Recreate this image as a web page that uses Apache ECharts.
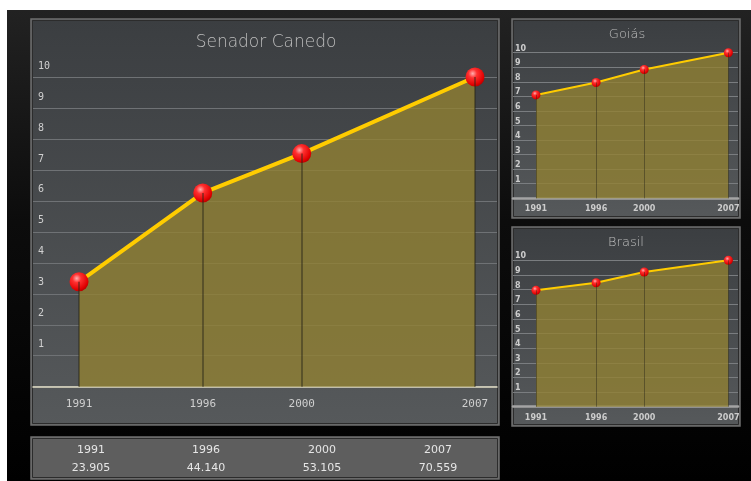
<!DOCTYPE html>
<html>
<head>
<meta charset="utf-8">
<script src="https://cdn.jsdelivr.net/npm/echarts@6/dist/echarts.min.js"></script>
<style>
  html, body { margin: 0; padding: 0; background: #fff; }
  #chart { width: 751px; height: 481px; }
</style>
</head>
<body>
<div id="chart"></div>
<script>
  // dados
  const years = [1991, 1996, 2000, 2007]
  const senadorValues = [23.905, 44.140, 53.105, 70.559]
  const goiasValues = [7.1, 7.95, 8.85, 10]
  const brasilValues = [7.95, 8.47, 9.2, 10]
  const scaleLabels = ['1', '2', '3', '4', '5', '6', '7', '8', '9', '10']

  const mainStep = senadorValues[senadorValues.length - 1] / scaleLabels.length

  const myChart = echarts.init(document.getElementById('chart'), null, { renderer: 'canvas' })

  const ball = () => new echarts.graphic.RadialGradient(0.38, 0.32, 0.75, [
    { offset: 0, color: '#ffb0b0' },
    { offset: 0.3, color: '#ff3030' },
    { offset: 0.8, color: '#e00000' },
    { offset: 1, color: '#a80000' }
  ])

  const pairs = (vals) => years.map((y, i) => [y, vals[i]])
  const drops = (vals) => years.map((y, i) => [{ coord: [y, 0] }, { coord: [y, vals[i]] }])

  const panelFill = () => new echarts.graphic.LinearGradient(0, 0, 0, 1, [
    { offset: 0, color: '#3b3e41' },
    { offset: 1, color: '#56595b' }
  ])

  const panel = (x, y, w, h, fill) => ([
    { type: 'rect', z: -8, shape: { x: x, y: y, width: w, height: h },
      style: { fill: fill, stroke: '#6f6f6f', lineWidth: 1.5 } },
    { type: 'rect', z: -7, shape: { x: x + 1.5, y: y + 1.5, width: w - 3, height: h - 3 },
      style: { fill: 'none', stroke: '#2c2c2c', lineWidth: 1 } }
  ])

  // tabela de valores
  const colX = [91, 206, 322, 438]
  const tableTexts = []
  years.forEach((y, i) => {
    tableTexts.push({ type: 'text', z: 10, style: { text: String(y), x: colX[i], y: 450,
      align: 'center', verticalAlign: 'middle', fill: '#e6e6e6', font: '11px "DejaVu Sans"' } })
    tableTexts.push({ type: 'text', z: 10, style: { text: senadorValues[i].toFixed(3), x: colX[i], y: 468,
      align: 'center', verticalAlign: 'middle', fill: '#e6e6e6', font: '11px "DejaVu Sans"' } })
  })

  const titleText = (text, x, y, size) => ({
    type: 'text', z: 10,
    style: { text: text, x: x, y: y, align: 'center', verticalAlign: 'middle',
      fill: '#bdbdbd', font: '200 ' + size + 'px "DejaVu Sans"' }
  })

  const yearLabel = v => String(v)

  const areaFill = { color: 'rgba(146,130,50,0.78)', opacity: 1 }
  const dropStyle = w => ({ color: 'rgba(40,38,24,0.45)', width: w, type: 'solid' })

  const option = {
    animation: false,
    graphic: { elements: [
      { type: 'rect', z: -10, shape: { x: 7, y: 10, width: 744, height: 471 },
        style: { fill: new echarts.graphic.LinearGradient(0, 0, 0, 1, [
          { offset: 0, color: '#222222' },
          { offset: 0.45, color: '#0c0c0c' },
          { offset: 1, color: '#000000' }
        ]) } },
      ...panel(31, 19, 468, 406, panelFill()),
      ...panel(512, 19, 228, 199, panelFill()),
      ...panel(512, 227, 228, 199, panelFill()),
      ...panel(31, 437, 468, 42, '#5e5e5e'),
      titleText('Senador Canedo', 266, 43, 17),
      titleText('Goiás', 627, 35, 13),
      titleText('Brasil', 626, 243, 13),
      ...tableTexts
    ] },
    grid: [
      { left: 33, right: 254, top: 77, bottom: 94.3 },
      { left: 513, right: 13, top: 52.7, bottom: 282.7 },
      { left: 513, right: 13, top: 260.3, bottom: 74.3 }
    ],
    xAxis: [
      { gridIndex: 0, type: 'value', min: 1989.14, max: 2007.89,
        axisLine: { lineStyle: { color: '#e4e0c8', width: 1.5 } },
        axisTick: { show: false }, splitLine: { show: false },
        axisLabel: { customValues: years, formatter: yearLabel, margin: 12, color: '#cfcfcf',
          fontFamily: 'DejaVu Sans Mono', fontSize: 11 } },
      { gridIndex: 1, type: 'value', min: 1989.09, max: 2007.8,
        axisLine: { lineStyle: { color: '#a4a4a4', width: 2.5 } },
        axisTick: { show: false }, splitLine: { show: false },
        axisLabel: { customValues: years, formatter: yearLabel, margin: 7, color: '#cccccc',
          fontFamily: 'DejaVu Sans', fontWeight: 'bold', fontSize: 8 } },
      { gridIndex: 2, type: 'value', min: 1989.09, max: 2007.8,
        axisLine: { lineStyle: { color: '#a4a4a4', width: 2.5 } },
        axisTick: { show: false }, splitLine: { show: false },
        axisLabel: { customValues: years, formatter: yearLabel, margin: 7, color: '#cccccc',
          fontFamily: 'DejaVu Sans', fontWeight: 'bold', fontSize: 8 } }
    ],
    yAxis: [
      { gridIndex: 0, type: 'value', min: 0, max: senadorValues[senadorValues.length - 1], interval: mainStep,
        axisLine: { show: false }, axisTick: { show: false },
        splitLine: { lineStyle: { color: '#6f7275', width: 1.2 } },
        axisLabel: { inside: true, margin: 5, align: 'left', verticalAlign: 'bottom', padding: [0, 0, 6, 0],
          color: '#d0d0d0', fontFamily: 'DejaVu Sans Mono', fontSize: 10,
          formatter: v => scaleLabels[Math.round(v / mainStep) - 1] || '' } },
      { gridIndex: 1, type: 'value', min: 0, max: 10, interval: 1,
        axisLine: { show: false }, axisTick: { show: false },
        splitLine: { lineStyle: { color: '#7a7d80', width: 1 } },
        axisLabel: { inside: true, margin: 2, align: 'left', verticalAlign: 'bottom',
          color: '#cccccc', fontFamily: 'DejaVu Sans', fontWeight: 'bold', fontSize: 8,
          formatter: v => scaleLabels[v - 1] || '' } },
      { gridIndex: 2, type: 'value', min: 0, max: 10, interval: 1,
        axisLine: { show: false }, axisTick: { show: false },
        splitLine: { lineStyle: { color: '#7a7d80', width: 1 } },
        axisLabel: { inside: true, margin: 2, align: 'left', verticalAlign: 'bottom',
          color: '#cccccc', fontFamily: 'DejaVu Sans', fontWeight: 'bold', fontSize: 8,
          formatter: v => scaleLabels[v - 1] || '' } }
    ],
    series: [
      { name: 'Senador Canedo', type: 'line', xAxisIndex: 0, yAxisIndex: 0,
        data: pairs(senadorValues), symbol: 'circle', symbolSize: 19,
        lineStyle: { color: '#ffcc00', width: 4 },
        itemStyle: { color: ball() },
        areaStyle: areaFill,
        markLine: { silent: true, symbol: 'none', label: { show: false },
          lineStyle: dropStyle(2), data: drops(senadorValues) } },
      { name: 'Goiás', type: 'line', xAxisIndex: 1, yAxisIndex: 1,
        data: pairs(goiasValues), symbol: 'circle', symbolSize: 9,
        lineStyle: { color: '#ffcc00', width: 2 },
        itemStyle: { color: ball() },
        areaStyle: areaFill,
        markLine: { silent: true, symbol: 'none', label: { show: false },
          lineStyle: dropStyle(1), data: drops(goiasValues) } },
      { name: 'Brasil', type: 'line', xAxisIndex: 2, yAxisIndex: 2,
        data: pairs(brasilValues), symbol: 'circle', symbolSize: 9,
        lineStyle: { color: '#ffcc00', width: 2 },
        itemStyle: { color: ball() },
        areaStyle: areaFill,
        markLine: { silent: true, symbol: 'none', label: { show: false },
          lineStyle: dropStyle(1), data: drops(brasilValues) } }
    ]
  }

  myChart.setOption(option)
</script>
</body>
</html>
